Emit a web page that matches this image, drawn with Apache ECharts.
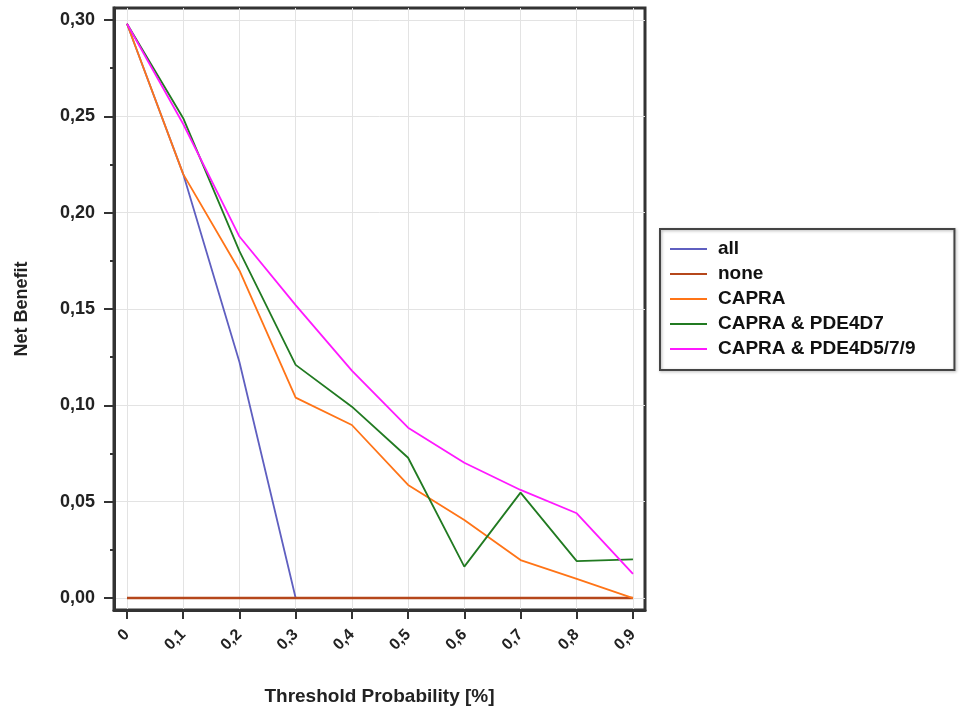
<!DOCTYPE html>
<html>
<head>
<meta charset="utf-8">
<script src="https://cdn.jsdelivr.net/npm/echarts@6/dist/echarts.min.js"></script>
<style>html,body{margin:0;padding:0;background:#fff}#c{width:960px;height:713px}</style>
</head>
<body>
<div id="c"></div>
<script>
var thresholds = [0, 0.1, 0.2, 0.3, 0.4, 0.5, 0.6, 0.7, 0.8, 0.9];
var xTickValues = [0, 0.1, 0.2, 0.3, 0.4, 0.5, 0.6, 0.7, 0.8, 0.9];
var yTickValues = [0, 0.05, 0.10, 0.15, 0.20, 0.25, 0.30];
var yMinorTickValues = [0.025, 0.075, 0.125, 0.175, 0.225, 0.275];
var seriesNames = ["all", "none", "CAPRA", "CAPRA & PDE4D7", "CAPRA & PDE4D5/7/9"];
var allValues   = [0.298, 0.220, 0.1225, 0, null, null, null, null, null, null];
var noneValues  = [0, 0, 0, 0, 0, 0, 0, 0, 0, 0];
var capraValues = [0.298, 0.220, 0.170, 0.104, 0.0898, 0.0587, 0.0405, 0.0197, 0.0099, 0];
var pde4d7Values = [0.298, 0.249, 0.180, 0.121, 0.0993, 0.0728, 0.0163, 0.0547, 0.0192, 0.0201];
var pde4d579Values = [0.298, 0.246, 0.1876, 0.152, 0.118, 0.0884, 0.0702, 0.0561, 0.044, 0.0125];
var colors = ["#5f5fc0", "#b5471b", "#ff7417", "#217a21", "#ff19ff"];

function pairs(vals){ var out=[]; for(var i=0;i<thresholds.length;i++){ if(vals[i]!==null) out.push([thresholds[i], vals[i]]); } return out; }
function fmt(v){ return String(v).replace('.', ','); }
function fmtY(v){ return v.toFixed(2).replace('.', ','); }

var font = '"Liberation Sans", Arial, sans-serif';
var chart = echarts.init(document.getElementById('c'), null, {renderer:'canvas'});
var allData = [allValues, noneValues, capraValues, pde4d7Values, pde4d579Values];
var series = [];
for (var i=0;i<seriesNames.length;i++){
  series.push({
    name: seriesNames[i], type:'line', data: pairs(allData[i]),
    xAxisIndex:0, yAxisIndex:0,
    showSymbol:false, symbol:'none', animation:false,
    lineStyle:{color:colors[i], width: i===1 ? 2.5 : 1.8},
    itemStyle:{color:colors[i]}
  });
}
chart.setOption({
  animation:false,
  color: colors,
  textStyle:{fontFamily:font},
  grid:{left:114, right:315, top:8, bottom:103, show:true, borderColor:'#333', borderWidth:3, backgroundColor:'#fff'},
  legend:{
    orient:'vertical', left:660, top:229,
    data: seriesNames,
    itemWidth:37, itemHeight:14, itemGap:5,
    padding:[10, 39, 11, 10],
    borderColor:'#444', borderWidth:2,
    icon:'path://M0,0 L20,0 L20,1 L0,1 Z',
    textStyle:{fontFamily:font, fontSize:19, lineHeight:20, fontWeight:'bold', color:'#111', padding:[0,0,0,6]},
    shadowColor:'rgba(0,0,0,0.3)', shadowBlur:3, shadowOffsetX:1, shadowOffsetY:1
  },
  xAxis:[{
    type:'value', min:-0.0231, max:0.9214,
    name:'Threshold Probability [%]', nameLocation:'middle', nameGap:77,
    nameTextStyle:{fontFamily:font, fontSize:19, fontWeight:'bold', color:'#222'},
    axisLine:{show:true, onZero:false, lineStyle:{color:'#333', width:3}},
    axisTick:{show:true, length:9, customValues:xTickValues, lineStyle:{color:'#333', width:2}},
    axisLabel:{customValues:xTickValues, rotate:45, margin:22, formatter:fmt, fontFamily:font, fontSize:16, fontWeight:'bold', color:'#222'},
    splitLine:{show:true, lineStyle:{color:'#e3e3e3', width:1}}
  }],
  yAxis:[{
    type:'value', min:-0.0062, max:0.3062,
    name:'Net Benefit', nameLocation:'middle', nameGap:83, nameRotate:90,
    nameTextStyle:{fontFamily:font, fontSize:18, fontWeight:'bold', color:'#222'},
    axisLine:{show:true, onZero:false, lineStyle:{color:'#333', width:3}},
    axisTick:{show:true, length:10, customValues:yTickValues, lineStyle:{color:'#333', width:2}},
    axisLabel:{customValues:yTickValues, margin:19, formatter:fmtY, fontFamily:font, fontSize:18, fontWeight:'bold', color:'#222'},
    splitLine:{show:true, lineStyle:{color:'#e3e3e3', width:1}}
  },{
    type:'value', min:-0.0062, max:0.3062, position:'left',
    axisLine:{show:false, onZero:false},
    axisTick:{show:true, length:4, customValues:yMinorTickValues, lineStyle:{color:'#333', width:2}},
    axisLabel:{show:false},
    splitLine:{show:false}
  }],
  series: series
});
</script>
</body>
</html>
